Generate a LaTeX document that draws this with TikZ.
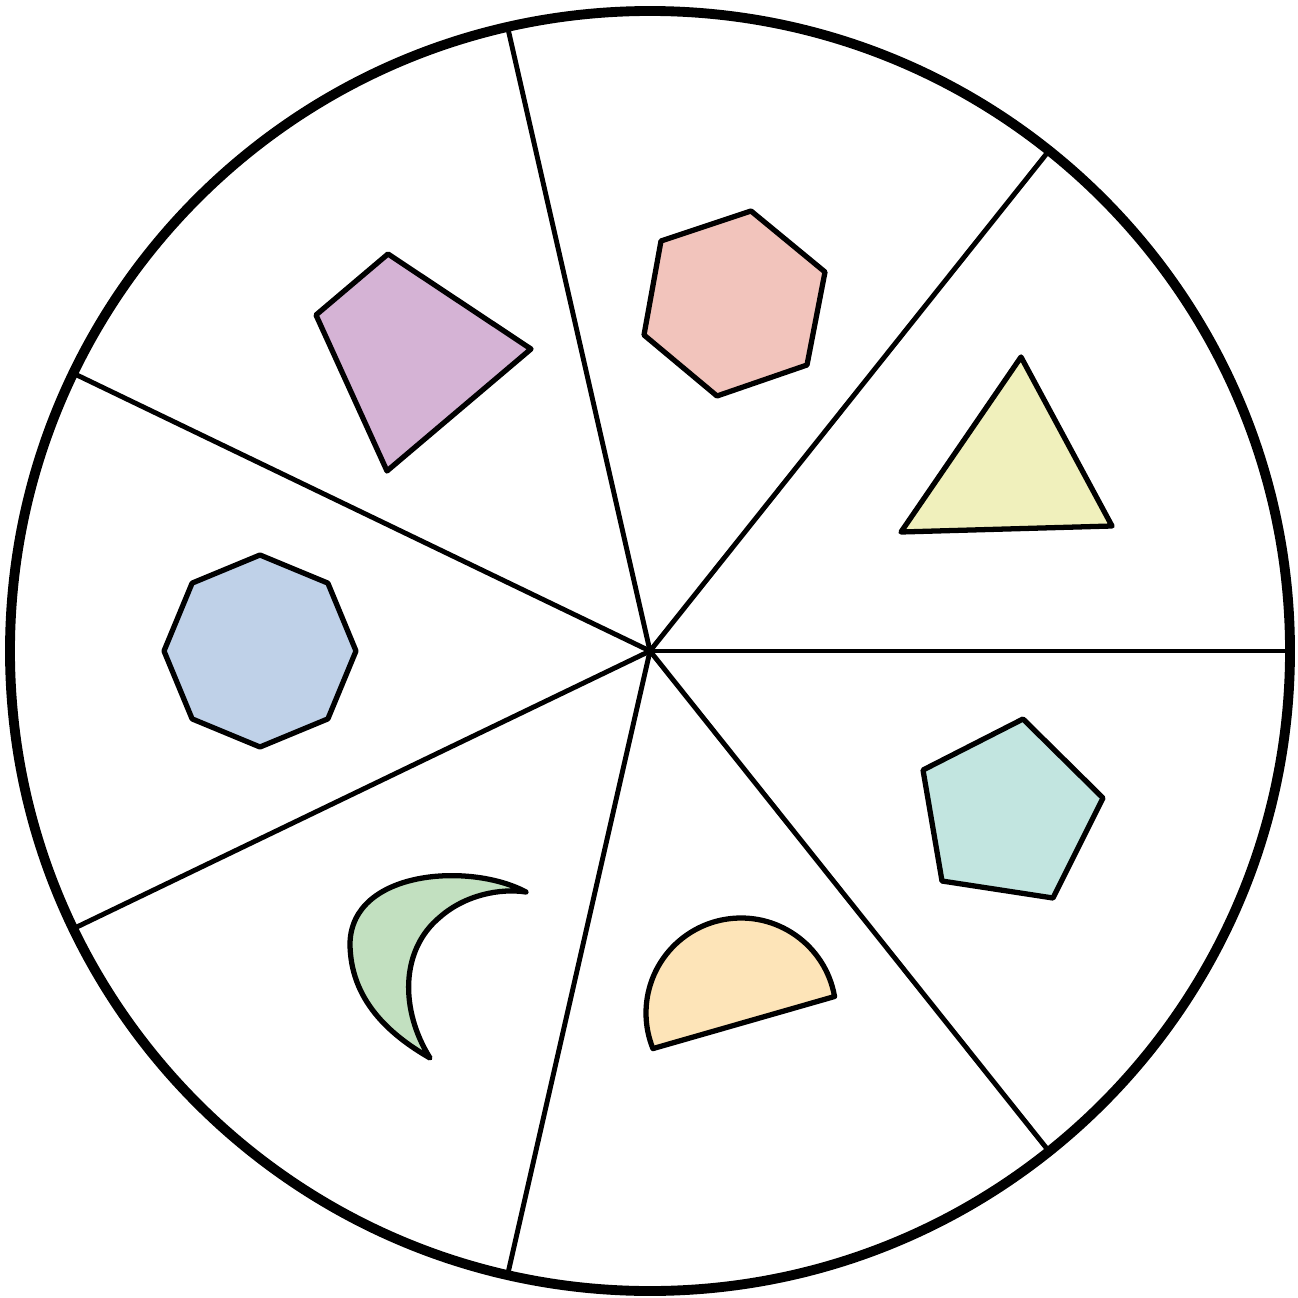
\documentclass[tikz,border=0pt]{standalone}
\usepackage{tikz}
\usetikzlibrary{calc}
\definecolor{kiteC}{HTML}{D5B3D5}
\definecolor{hexC}{HTML}{F2C4BC}
\definecolor{triC}{HTML}{F0F0BC}
\definecolor{octC}{HTML}{BFD1E8}
\definecolor{pentC}{HTML}{C2E5E0}
\definecolor{halfC}{HTML}{FDE4B8}
\definecolor{moonC}{HTML}{C2E0C0}
\begin{document}
\begin{tikzpicture}[x=0.01cm, y=0.01cm, line join=round,
        piece/.style={draw=black, line width=1.5pt}]
        \useasboundingbox (-650,-646) rectangle (648,651);
        % spinner sectors
        \foreach \k in {0,...,6}
        {
            \draw[line width=1.4pt] (0,0) -- (\k*360/7:640);
        }
        \draw[line width=2.8pt] (0,0) circle (640);
        % shapes
        \draw[piece, fill=kiteC] (-262,397) -- (-119,302) -- (-263,180) -- (-334,336) -- cycle;
        \draw[piece, fill=hexC] (11,410) -- (101,440) -- (175,379) -- (157,286) -- (67,255) -- (-6,316) -- cycle;
        \draw[piece, fill=triC] (371,294) -- (462,125) -- (251,119) -- cycle;
        \draw[piece, fill=octC] (-390,0) ++(0:96)
            \foreach \a in {45,90,...,315} { -- ($(-390,0)+(\a:96)$) } -- cycle;
        \draw[piece, fill=pentC] (373,-68) -- (453,-147) -- (403,-247) -- (292,-230) -- (273,-119) -- cycle;
        \draw[piece, fill=halfC] (91,-362) ++(10:95) arc[start angle=10, end angle=202, radius=95] -- cycle;
        \draw[piece, fill=moonC] (-124,-241) .. controls (-180,-211) and (-298,-219) .. (-300,-292)
            .. controls (-300,-349) and (-260,-384) .. (-220,-407)
            .. controls (-250,-359) and (-250,-299) .. (-210,-266)
            .. controls (-185,-244) and (-150,-237) .. cycle;
    \end{tikzpicture}
\end{document}
